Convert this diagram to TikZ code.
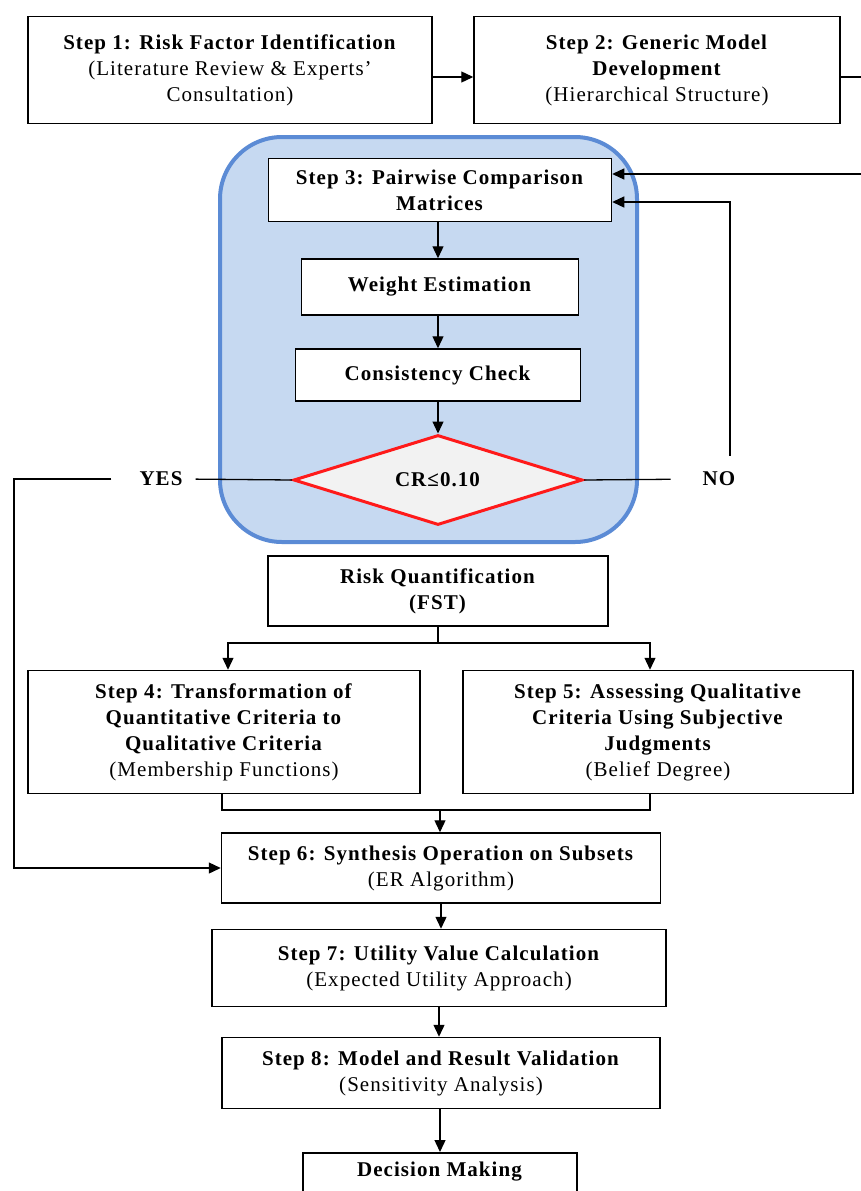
\documentclass[tikz,border=0pt]{standalone}
\usepackage{fontspec}
\setmainfont{Liberation Serif}[LetterSpace=5]
\usetikzlibrary{arrows.meta,shapes.geometric}
\definecolor{groupfill}{HTML}{C6D9F1}
\definecolor{groupline}{HTML}{5B8BD5}
\definecolor{diafill}{HTML}{F2F2F2}
\definecolor{dialine}{HTML}{FF1A1A}
\begin{document}
\begin{tikzpicture}[x=1pt,y=-1pt,
  font=\fontsize{21}{26}\selectfont,
  stepbox/.style={draw=black, line width=1.5pt, fill=white, align=center, inner sep=0pt},
  group/.style={draw=groupline, line width=4pt, fill=groupfill, rounded corners=62pt, inner sep=0pt},
  dia/.style={diamond, draw=dialine, line width=3pt, fill=diafill, inner sep=0pt,
    minimum width=289pt, minimum height=90pt, aspect=3.2},
  conn/.style={line width=1.3pt},
  arr/.style={conn, -{Triangle[length=12pt,width=11pt]}},
  tag/.style={font=\fontsize{21}{26}\selectfont\bfseries, inner sep=0pt}
]
\useasboundingbox[fill=white] (0,0) rectangle (860,1191);

% AHP loop background
\node[group, minimum width=417pt, minimum height=405pt] (grp) at (428.5,339.5) {};

% Steps 1 and 2
\node[stepbox, minimum width=404pt, minimum height=107pt] (b1) at (230,70)
  {\textbf{Step 1: Risk Factor Identification}\\(Literature Review \& Experts’\\Consultation)};
\node[stepbox, minimum width=366pt, minimum height=107pt] (b2) at (657,70)
  {\textbf{Step 2: Generic Model}\\\textbf{Development}\\(Hierarchical Structure)};

% AHP loop
\node[stepbox, minimum width=343pt, minimum height=63pt] (b3) at (440,190)
  {\textbf{Step 3: Pairwise Comparison}\\\textbf{Matrices}};
\node[stepbox, minimum width=277pt, minimum height=56pt] (we) at (440,287)
  {\textbf{Weight Estimation}};
\node[stepbox, minimum width=285pt, minimum height=52pt] (cc) at (438,375)
  {\textbf{Consistency Check}};
\node[dia] (dia) at (438,480) {\textbf{CR≤0.10}};
\node[tag] (yes) at (161,479) {YES};
\node[tag] (no) at (719,479) {NO};

% Quantification and steps 4-8
\node[stepbox, minimum width=340pt, minimum height=70pt] (rq) at (438,591)
  {\textbf{Risk Quantification}\\\textbf{(FST)}};
\node[stepbox, minimum width=392pt, minimum height=123pt] (b4) at (224,732)
  {\textbf{Step 4: Transformation of}\\\textbf{Quantitative Criteria to}\\\textbf{Qualitative Criteria}\\(Membership Functions)};
\node[stepbox, minimum width=390pt, minimum height=123pt] (b5) at (658,732)
  {\textbf{Step 5: Assessing Qualitative}\\\textbf{Criteria Using Subjective}\\\textbf{Judgments}\\(Belief Degree)};
\node[stepbox, minimum width=439pt, minimum height=70pt] (b6) at (441,868)
  {\textbf{Step 6: Synthesis Operation on Subsets}\\(ER Algorithm)};
\node[stepbox, minimum width=454pt, minimum height=77pt] (b7) at (439,968)
  {\textbf{Step 7: Utility Value Calculation}\\(Expected Utility Approach)};
\node[stepbox, minimum width=438pt, minimum height=71pt] (b8) at (441,1073)
  {\textbf{Step 8: Model and Result Validation}\\(Sensitivity Analysis)};
\node[stepbox, anchor=north, minimum width=274pt, text height=24pt, text depth=40pt] (dm) at (440,1152)
  {\textbf{Decision Making}};

% routing points
\coordinate (outA) at (885,77);
\coordinate (yesL) at (14,479);
\coordinate (split) at (438,643);
\coordinate (merge) at (440,810);
\coordinate (spine) at (438,0);

% connectors
\draw[arr] ([yshift=-7pt]b1.east) -- ([yshift=-7pt]b2.east -| b2.west);
\draw[arr] ([yshift=-7pt]b2.east) -- (outA) |- ([yshift=16pt]b3.east);
\draw[arr] (b3.south -| spine) -- (we.north -| spine);
\draw[arr] (we.south -| spine) -- (cc.north -| spine);
\draw[arr] (cc) -- (dia);
\draw[conn, shorten >=32pt] (dia.east) -- (no.west);
\draw[arr, shorten <=16pt] ([xshift=11pt]no.north) |- ([yshift=-12pt]b3.east);
\draw[conn, shorten >=13pt] (dia.west) -- (yes.east);
\draw[arr, shorten <=28pt] (yes.west) -- (yesL) |- (b6.west);
\draw[conn] (rq.south) -- (split);
\draw[arr] (split) -| ([xshift=4pt]b4.north);
\draw[arr] (split) -| ([xshift=-8pt]b5.north);
\draw[conn] ([xshift=-2pt]b4.south) |- (merge) -| ([xshift=-8pt]b5.south);
\draw[arr] (merge) -- (b6.north -| merge);
\draw[arr] (b6) -- (b6.south |- b7.north);
\draw[arr] (b7) -- (b7.south |- b8.north);
\draw[arr] (b8.south -| dm) -- (dm.north);
\end{tikzpicture}
\end{document}
